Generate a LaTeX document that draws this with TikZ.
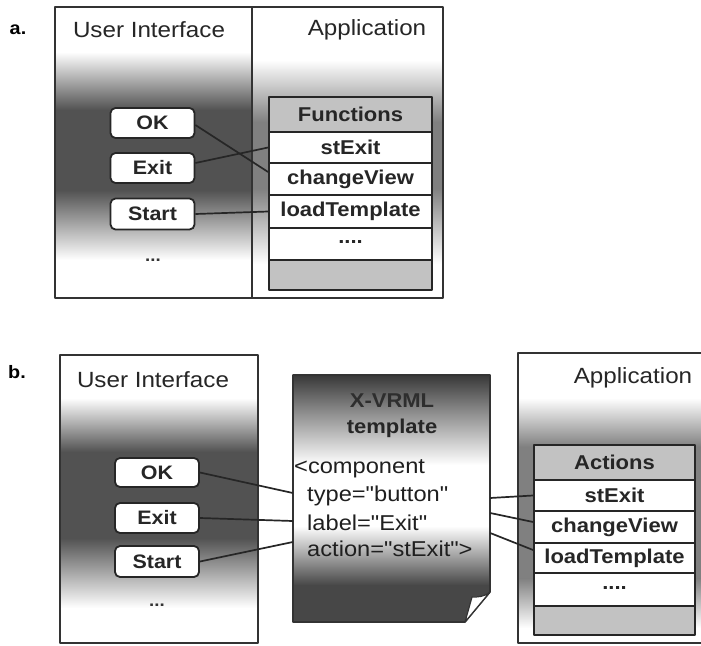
\documentclass[tikz,border=0pt]{standalone}
\usepackage{fontspec}
\setmainfont{Liberation Sans}[FakeStretch=1.1]
\newfontfamily\codefont{Liberation Sans}[FakeStretch=1.1,Ligatures=TeXOff]
\begin{document}
\begin{tikzpicture}[x=1pt,y=-1pt,line join=round,
  frame/.style={draw=black!80,line width=1.6pt},
  btn/.style={draw=black!85,line width=1.8pt,fill=white,rounded corners=5pt,minimum width=84pt,inner sep=0pt,font=\bfseries\fontsize{19.5}{22}\selectfont,text=black!85},
  cell/.style={draw=black!85,line width=1.8pt,fill=white,inner sep=0pt,font=\bfseries\fontsize{20}{22}\selectfont,text=black!85},
  gcell/.style={cell,fill=black!24},
  ttl/.style={font=\fontsize{22}{25}\selectfont,text=black!85,inner sep=0pt},
  plab/.style={font=\bfseries\fontsize{18}{22}\selectfont,inner sep=0pt},
  dots/.style={font=\bfseries\fontsize{17}{20}\selectfont,text=black!80,inner sep=0pt},
  code/.style={font=\codefont\fontsize{21.5}{25}\selectfont,text=black!88,inner sep=0pt,anchor=west},
  conn/.style={draw=black!85,line width=1.7pt}]
\colorlet{uidark}{black!68}
\colorlet{appdark}{black!50}
\fill[white] (0,0) rectangle (701,645);
\useasboundingbox (0,0) rectangle (701,645);

%%%%%%%% panel a
\node[plab] (la) at (18,30) {a.};
% UI shading
\shade[top color=white,bottom color=uidark] (55,52) rectangle (252,110);
\fill[uidark] (55,110) rectangle (252,190);
\shade[top color=uidark,bottom color=white] (55,190) rectangle (252,260);
% App shading
\shade[top color=white,bottom color=appdark] (252,60) rectangle (443,122);
\fill[appdark] (252,122) rectangle (443,188);
\shade[top color=appdark,bottom color=white] (252,188) rectangle (443,264);
\draw[frame] (55,7) rectangle (443,298);
\draw[frame] (252,7) -- (252,298);
\node[ttl] (auit) at (149,30) {User Interface};
\node[ttl] (aapt) at (367,30) {Application};

\node[btn,minimum height=30pt] (aok) at (152.5,123) {OK};
\node[btn,minimum height=30pt] (aexit) at (152.5,168) {Exit};
\node[btn,minimum height=31pt] (astart) at (152.5,214) {Start};
\node[dots] (adots) at (153,260) {...};

\node[gcell,minimum width=163pt,minimum height=35pt] (ahead) at (350.5,114.5) {Functions};
\node[cell,minimum width=163pt,minimum height=31pt] (ast) at (350.5,147.5) {stExit};
\node[cell,minimum width=163pt,minimum height=32pt] (achg) at (350.5,179) {changeView};
\node[cell,minimum width=163pt,minimum height=33pt] (aload) at (350.5,211.5) {loadTemplate};
\node[cell,minimum width=163pt,minimum height=32pt] (adot) at (350.5,244) {\raisebox{3pt}{....}};
\node[gcell,minimum width=163pt,minimum height=30pt] (afoot) at (350.5,275) {};

\draw[conn] ([yshift=-2pt]aok.east) -- ([yshift=7pt]achg.west);
\draw[conn] ([yshift=5pt]aexit.east) -- (ast.west);
\draw[conn] (astart.east) -- (aload.west);

%%%%%%%% panel b
\node[plab] (lb) at (17,372) {b.};
% UI shading
\shade[top color=white,bottom color=uidark] (60,398) rectangle (258,452);
\fill[uidark] (60,452) rectangle (258,538);
\shade[top color=uidark,bottom color=white] (60,538) rectangle (258,608);
\draw[frame] (60,355) rectangle (258,643);
\node[ttl] (buit) at (153,380) {User Interface};
\node[btn,minimum height=29pt] (bok) at (157,472.5) {OK};
\node[btn,minimum height=30pt] (bexit) at (157,518) {Exit};
\node[btn,minimum height=31pt] (bstart) at (157,561.5) {Start};
\node[dots] (bdots) at (157,605) {...};

% App shading
\shade[top color=white,bottom color=appdark] (518,398) rectangle (708,447);
\fill[appdark] (518,447) rectangle (708,578);
\shade[top color=appdark,bottom color=white] (518,578) rectangle (708,628);
\draw[frame] (518,353) rectangle (708,643);
\node[ttl] (bapt) at (633,378) {Application};
\node[gcell,minimum width=161pt,minimum height=35pt] (bhead) at (614.5,462.5) {Actions};
\node[cell,minimum width=161pt,minimum height=31pt] (bst) at (614.5,495.5) {stExit};
\node[cell,minimum width=161pt,minimum height=32pt] (bchg) at (614.5,527) {changeView};
\node[cell,minimum width=161pt,minimum height=30pt] (bload) at (614.5,558) {loadTemplate};
\node[cell,minimum width=161pt,minimum height=33pt] (bdot) at (614.5,589.5) {\raisebox{3pt}{....}};
\node[gcell,minimum width=161pt,minimum height=29pt] (bfoot) at (614.5,620.5) {};

% template document
\begin{scope}
\clip (293,375) -- (490,375) -- (490,592) -- (465,622) -- (293,622) -- cycle;
\shade[top color=black!78,bottom color=black!45] (293,375) rectangle (490,412);
\shade[top color=black!45,bottom color=white] (293,412) rectangle (490,465);
\fill[white] (293,465) rectangle (490,526);
\shade[top color=white,bottom color=black!72] (293,526) rectangle (490,585);
\fill[black!72] (293,585) rectangle (490,623);
\end{scope}
\draw[frame] (293,375) -- (490,375) -- (490,592) -- (465,622) -- (293,622) -- cycle;
\filldraw[fill=white,draw=black!80,line width=1.2pt] (490,592) .. controls (484,597) and (478,597) .. (472,597) -- (465,622) -- cycle;
\node[minimum width=197pt,minimum height=247pt,inner sep=0pt] (doc) at (391.5,498.5) {};
\node[font=\bfseries\fontsize{20}{24}\selectfont,text=black!82,inner sep=0pt] (xv) at (392,401) {X-VRML};
\node[font=\bfseries\fontsize{20}{24}\selectfont,text=black!85,inner sep=0pt] (tpl) at (392,428) {template};
\node[code] (c1) at (294,469) {<component};
\node[code] (c2) at (307,496) {type="button"};
\node[code] (c3) at (307,523) {label="Exit"};
\node[code] (c4) at (307,549) {action="stExit">};

\draw[conn] (bok.east) -- ([yshift=5.5pt]doc.west);
\draw[conn] (bexit.east) -- ([yshift=-22.5pt]doc.west);
\draw[conn] (bstart.east) -- ([yshift=-43.5pt]doc.west);
\draw[conn] ([yshift=0.5pt]doc.east) -- (bst.west);
\draw[conn] ([yshift=-14.5pt]doc.east) -- ([yshift=5pt]bchg.west);
\draw[conn] ([yshift=-34.5pt]doc.east) -- ([yshift=8pt]bload.west);
\end{tikzpicture}
\end{document}
